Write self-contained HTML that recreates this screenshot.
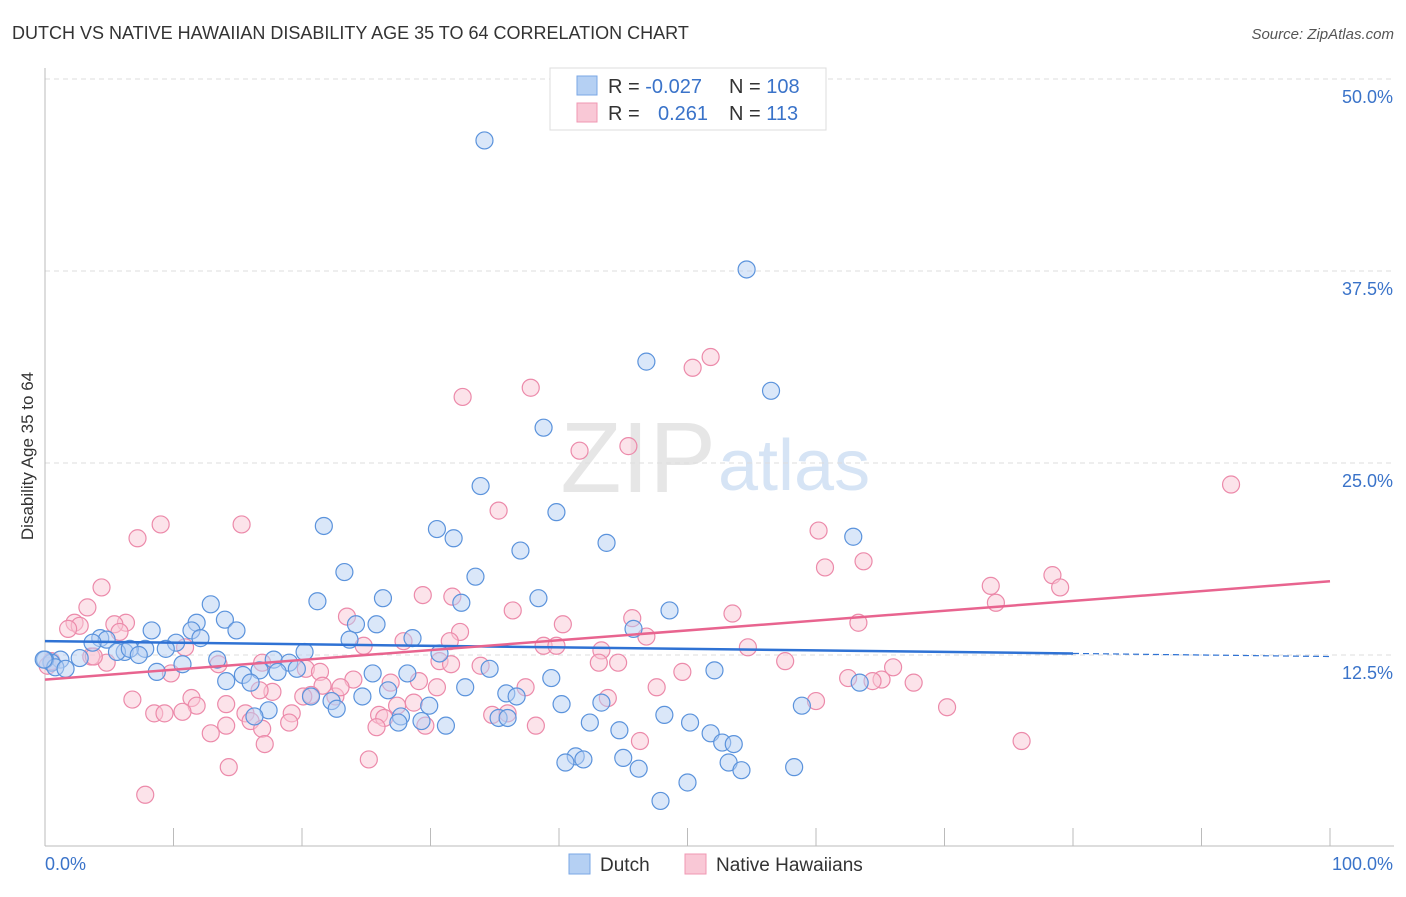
<!DOCTYPE html>
<html><head><meta charset="utf-8"><style>
body{margin:0;background:#fff;font-family:"Liberation Sans",sans-serif;}
svg text{font-family:"Liberation Sans",sans-serif;}
</style></head><body>
<svg id="chart" width="1406" height="892" xmlns="http://www.w3.org/2000/svg">
<text x="12" y="39" font-size="18" fill="#333">DUTCH VS NATIVE HAWAIIAN DISABILITY AGE 35 TO 64 CORRELATION CHART</text>
<text x="1394" y="39" font-size="15" fill="#555" text-anchor="end" font-style="italic">Source: ZipAtlas.com</text>
<text x="716" y="492" font-size="100" fill="#e6e6e6" text-anchor="end" font-family="Liberation Serif">ZIP</text>
<text x="718" y="490" font-size="72" fill="#d6e4f5">atlas</text>
<g id="grid"></g>
<g id="axes"></g>
<g id="pts"></g>
<g id="lines"></g>
<text transform="translate(33,456) rotate(-90)" font-size="17" fill="#333" text-anchor="middle">Disability Age 35 to 64</text>
<g>
<rect x="550" y="68" width="276" height="62" fill="#fff" stroke="#ddd"/>
<rect x="577" y="76" width="20" height="19" fill="#b5d0f3" stroke="#7aa7e6"/>
<rect x="577" y="103" width="20" height="19" fill="#f9c8d6" stroke="#f097b3"/>
<text x="608" y="93" font-size="20" fill="#333">R = <tspan fill="#3a73c9">-0.027</tspan></text>
<text x="729" y="93" font-size="20" fill="#333">N = <tspan fill="#3a73c9">108</tspan></text>
<text x="608" y="120" font-size="20" fill="#333">R = </text>
<text x="658" y="120" font-size="20" fill="#3a73c9">0.261</text>
<text x="729" y="120" font-size="20" fill="#333">N = <tspan fill="#3a73c9"> 113</tspan></text>
</g>
<g>
<rect x="569" y="854" width="21" height="20" fill="#b5d0f3" stroke="#7aa7e6"/>
<text x="600" y="871" font-size="19" fill="#333">Dutch</text>
<rect x="685" y="854" width="21" height="20" fill="#f9c8d6" stroke="#f097b3"/>
<text x="716" y="871" font-size="19" fill="#333">Native Hawaiians</text>
</g>
</svg>
<script>
const yTicks=[12.5,25,37.5,50];
const yTickLabels=["12.5%","25.0%","37.5%","50.0%"];
const xTickLabels=["0.0%","100.0%"];
const dutchX=[34.2,54.6,46.8,56.5,38.8,33.9,39.8,21.7,30.5,31.8,43.7,37.0,62.9,23.3,33.5,38.4,26.3,21.2,32.4,12.9,48.6,11.8,14.0,25.8,24.2,14.9,8.3,11.4,45.8,12.1,4.3,10.2,23.7,28.6,4.8,3.7,20.2,6.2,7.8,5.6,6.6,9.4,30.7,7.3,2.7,1.2,0.5,0.0,0.8,1.6,10.7,13.4,17.8,19.0,16.7,19.6,18.1,15.4,8.7,25.5,28.2,34.6,39.4,52.1,14.1,16.0,32.7,20.7,24.7,26.7,35.9,36.7,22.3,22.7,40.2,43.3,29.9,17.4,63.4,58.9,48.2,35.3,27.7,16.3,27.5,29.3,31.2,36.0,42.4,44.7,50.2,51.8,52.7,53.6,41.3,41.9,40.5,53.2,45.0,54.2,46.2,58.3,50.0,47.9,-0.1];
const dutchY=[46.0,37.6,31.6,29.7,27.3,23.5,21.8,20.9,20.7,20.1,19.8,19.3,20.2,17.9,17.6,16.2,16.2,16.0,15.9,15.8,15.4,14.6,14.8,14.5,14.5,14.1,14.1,14.1,14.2,13.6,13.6,13.3,13.5,13.6,13.5,13.3,12.7,12.7,12.9,12.7,12.9,12.9,12.6,12.5,12.3,12.2,12.0,12.2,11.7,11.6,11.9,12.2,12.2,12.0,11.5,11.6,11.4,11.2,11.4,11.3,11.3,11.6,11.0,11.5,10.8,10.7,10.4,9.8,9.8,10.2,10.0,9.8,9.5,9.0,9.3,9.4,9.2,8.9,10.7,9.2,8.6,8.4,8.5,8.5,8.1,8.2,7.9,8.4,8.1,7.6,8.1,7.4,6.8,6.7,5.9,5.7,5.5,5.5,5.8,5.0,5.1,5.2,4.2,3.0,12.2];
const hawX=[51.8,50.4,37.8,32.5,45.4,41.6,92.3,35.3,9.0,15.3,60.2,7.2,63.7,60.7,78.4,73.6,79.0,4.4,29.4,31.7,74.0,3.3,36.4,53.5,45.7,23.5,63.3,2.3,40.3,2.7,6.3,5.4,5.8,32.3,46.8,27.9,38.8,31.5,54.7,24.8,39.8,43.3,3.6,4.8,3.8,0.2,0.5,13.5,44.6,43.1,57.6,30.7,20.3,21.4,33.9,31.6,16.9,49.6,66.0,9.8,65.1,64.4,62.5,67.6,26.9,29.1,24.0,30.5,37.4,21.6,47.6,17.7,16.7,20.7,22.6,20.1,23.0,11.4,6.8,11.8,43.8,60.0,14.1,70.2,27.4,28.7,8.5,9.3,10.7,19.2,26.0,15.6,16.0,26.4,34.8,36.0,14.1,12.9,19.0,38.2,16.9,25.8,29.6,46.3,76.0,17.1,14.3,25.2,7.8,1.8,10.9];
const hawY=[31.9,31.2,29.9,29.3,26.1,25.8,23.6,21.9,21.0,21.0,20.6,20.1,18.6,18.2,17.7,17.0,16.9,16.9,16.4,16.3,15.9,15.6,15.4,15.2,14.9,15.0,14.6,14.6,14.5,14.4,14.6,14.5,14.0,14.0,13.7,13.4,13.1,13.4,13.0,13.1,13.1,12.8,12.4,12.0,12.4,11.8,12.1,11.9,12.0,12.0,12.1,12.1,11.6,11.4,11.8,11.9,12.0,11.4,11.7,11.3,10.9,10.8,11.0,10.7,10.7,10.8,10.9,10.4,10.4,10.5,10.4,10.1,10.2,9.9,9.8,9.8,10.4,9.7,9.6,9.2,9.7,9.5,9.3,9.1,9.2,9.4,8.7,8.7,8.8,8.7,8.6,8.7,8.2,8.4,8.6,8.7,7.9,7.4,8.1,7.9,7.7,7.8,7.9,6.9,6.9,6.7,5.2,5.7,3.4,14.2,13.0];
const dutchTrend=[13.4,12.6,12.4];
const hawTrend=[10.9,17.3];
const NS="http://www.w3.org/2000/svg";
const X=v=>45+v*12.85;
const Y=v=>847-v*15.36;
function mk(t,a,p){const e=document.createElementNS(NS,t);for(const k in a)e.setAttribute(k,a[k]);document.getElementById(p).appendChild(e);return e;}
yTicks.forEach((t,i)=>{
 const g=mk('line',{x1:45,x2:1394,y1:Y(t),y2:Y(t),stroke:'#ddd','stroke-dasharray':'5,4'},'grid');
 
 
 const l=mk('text',{x:1393,y:Y(t)+24,'font-size':18,fill:'#3a73c9','text-anchor':'end'},'axes');
 l.textContent=yTickLabels[i];
 
 
});
let a=mk('line',{x1:45,x2:45,y1:68,y2:846,stroke:'#bbb'},'axes');


a=mk('line',{x1:45,x2:1394,y1:846,y2:846,stroke:'#bbb'},'axes');


for(let i=1;i<=10;i++){const t=mk('line',{x1:45+i*128.5,x2:45+i*128.5,y1:828,y2:846,stroke:'#bbb'},'axes');
 
 }
[[0,'start',45],[1,'end',1393]].forEach(([i,an,x])=>{const t=mk('text',{x:x,y:870,'font-size':18,fill:'#3a73c9','text-anchor':an},'axes');t.textContent=xTickLabels[i];
 
 });
function pts(xs,ys,f,s,n){xs.forEach((x,i)=>{const c=mk('circle',{cx:X(x),cy:Y(ys[i]),r:8.5,fill:f,'fill-opacity':0.5,stroke:s,'stroke-width':1.2},'pts');
 
 });}
pts(hawX,hawY,'#f9c8d6','#ec8aaa','hawaiian-point');
pts(dutchX,dutchY,'#b5d0f3','#5b93dc','dutch-point');
let t=mk('line',{x1:X(0),y1:Y(dutchTrend[0]),x2:X(80),y2:Y(dutchTrend[1]),stroke:'#2f72d4','stroke-width':2.5},'lines');


t=mk('line',{x1:X(80),y1:Y(dutchTrend[1]),x2:X(100),y2:Y(dutchTrend[2]),stroke:'#2f72d4','stroke-width':1.2,'stroke-dasharray':'6,4'},'lines');


t=mk('line',{x1:X(0),y1:Y(hawTrend[0]),x2:X(100),y2:Y(hawTrend[1]),stroke:'#e8648f','stroke-width':2.5},'lines');


</script>
</body></html>
